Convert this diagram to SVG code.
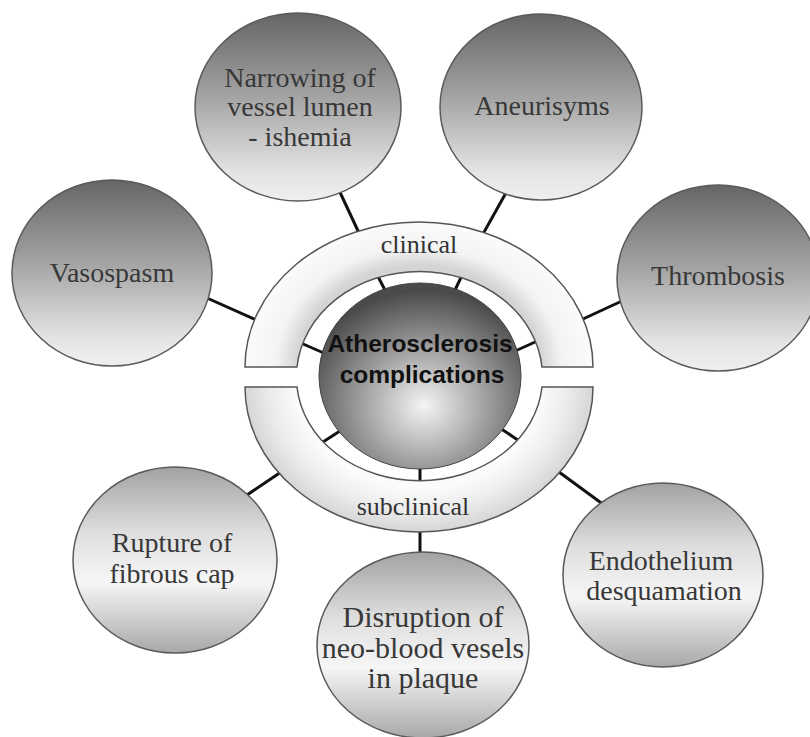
<svg xmlns="http://www.w3.org/2000/svg" width="810" height="737" viewBox="0 0 810 737">
<defs>
<linearGradient id="gDark" x1="0" y1="0" x2="0" y2="1">
<stop offset="0" stop-color="#656565"/>
<stop offset="0.45" stop-color="#a4a4a4"/>
<stop offset="0.85" stop-color="#e4e4e4"/>
<stop offset="1" stop-color="#efefef"/>
</linearGradient>
<linearGradient id="gLight" x1="0" y1="0" x2="0" y2="1">
<stop offset="0" stop-color="#a2a2a2"/>
<stop offset="0.35" stop-color="#dedede"/>
<stop offset="0.62" stop-color="#f6f6f6"/>
<stop offset="1" stop-color="#a8a8a8"/>
</linearGradient>
<radialGradient id="gCenter" cx="0.52" cy="0.66" r="0.62">
<stop offset="0" stop-color="#f4f4f4"/>
<stop offset="0.45" stop-color="#a8a8a8"/>
<stop offset="1" stop-color="#4a4a4a"/>
</radialGradient>
<radialGradient id="gUpper" gradientUnits="userSpaceOnUse" cx="419" cy="367" r="174" gradientTransform="translate(0 367) scale(1 0.833) translate(0 -367)">
<stop offset="0.70" stop-color="#d4d4d4"/>
<stop offset="0.82" stop-color="#f3f3f3"/>
<stop offset="1" stop-color="#fbfbfb"/>
</radialGradient>
<radialGradient id="gLower" gradientUnits="userSpaceOnUse" cx="419" cy="387" r="174" gradientTransform="translate(0 387) scale(1 0.833) translate(0 -387)">
<stop offset="0.70" stop-color="#fbfbfb"/>
<stop offset="0.85" stop-color="#ececec"/>
<stop offset="1" stop-color="#d6d6d6"/>
</radialGradient>
</defs>
<style>
.sat{stroke:#5a5a5a;stroke-width:1.5}
.dark{fill:url(#gDark)}
.light{fill:url(#gLight)}
.lbl{font-family:"Liberation Serif","Times New Roman",serif;font-size:28px;fill:#383838;text-anchor:middle}
.ring{stroke:#555;stroke-width:1.5}
.ringlbl{font-family:"Liberation Serif","Times New Roman",serif;font-size:26px;fill:#333;text-anchor:middle}
.ctr{font-family:"Liberation Sans",Arial,sans-serif;font-size:24.5px;font-weight:bold;fill:#111;text-anchor:middle}
.conn line{stroke:#111;stroke-width:3}
</style>
<rect width="810" height="737" fill="#fff"/>
<g id="connectors" class="conn">
<line x1="338" y1="188" x2="359" y2="233"/>
<line x1="371" y1="263" x2="387" y2="294"/>
<line x1="507" y1="191" x2="483" y2="234"/>
<line x1="467" y1="265" x2="455" y2="290"/>
<line x1="207" y1="298" x2="256" y2="320"/>
<line x1="294" y1="340" x2="326" y2="354"/>
<line x1="583" y1="319" x2="624" y2="300"/>
<line x1="513" y1="352" x2="544" y2="338"/>
<line x1="244" y1="497" x2="281" y2="472"/>
<line x1="312" y1="449" x2="340" y2="431"/>
<line x1="420" y1="528" x2="420" y2="556"/>
<line x1="420" y1="465" x2="420" y2="493"/>
<line x1="559" y1="472" x2="604" y2="505"/>
<line x1="500" y1="428" x2="528" y2="447"/>
</g>
<g id="clinical-arc">
<path class="ring" fill="url(#gUpper)" d="M245 367 A174 145 0 0 1 593 367 L542 367 A123 105 0 0 0 297 367 Z"/>
<text class="ringlbl" x="419" y="253">clinical</text>
</g>
<g id="subclinical-arc">
<path class="ring" fill="url(#gLower)" d="M245 387 A174 145 0 0 0 593 387 L542 387 A123 103 0 0 1 297 387 Z"/>
<text class="ringlbl" x="413" y="515">subclinical</text>
</g>
<g id="center">
<ellipse cx="420" cy="376" rx="101" ry="93" fill="url(#gCenter)" stroke="#444" stroke-width="1"/>
<text class="ctr" x="420" y="352">Atherosclerosis</text>
<text class="ctr" x="422" y="383">complications</text>
</g>
<g id="narrowing">
<ellipse class="sat dark" cx="298" cy="107" rx="103" ry="94"/>
<text class="lbl" x="300" y="87">Narrowing of</text>
<text class="lbl" x="300" y="116">vessel lumen</text>
<text class="lbl" x="300" y="146">- ishemia</text>
</g>
<g id="aneurisyms">
<ellipse class="sat dark" cx="541" cy="107" rx="101" ry="93"/>
<text class="lbl" x="542" y="115">Aneurisyms</text>
</g>
<g id="vasospasm">
<ellipse class="sat dark" cx="112" cy="273" rx="100" ry="93"/>
<text class="lbl" x="112" y="282">Vasospasm</text>
</g>
<g id="thrombosis">
<ellipse class="sat dark" cx="718" cy="278" rx="101" ry="93"/>
<text class="lbl" x="718" y="285">Thrombosis</text>
</g>
<g id="rupture">
<ellipse class="sat light" cx="175" cy="560" rx="102" ry="93"/>
<text class="lbl" x="172" y="552">Rupture of</text>
<text class="lbl" x="172" y="583">fibrous cap</text>
</g>
<g id="disruption">
<ellipse class="sat light" cx="423" cy="645" rx="106" ry="93"/>
<text class="lbl" x="423" y="627" style="font-size:30px">Disruption of</text>
<text class="lbl" x="423" y="658" style="font-size:30px">neo-blood vesels</text>
<text class="lbl" x="423" y="688" style="font-size:30px">in plaque</text>
</g>
<g id="endothelium">
<ellipse class="sat light" cx="663" cy="575" rx="100" ry="92"/>
<text class="lbl" x="661" y="570">Endothelium</text>
<text class="lbl" x="664" y="600">desquamation</text>
</g>
</svg>
